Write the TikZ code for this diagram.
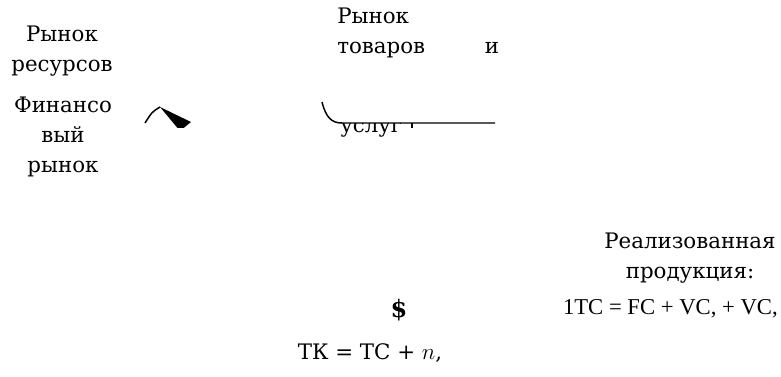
\documentclass[tikz,border=0pt]{standalone}
\usepackage{fontspec}
\setmainfont{DejaVu Serif}
\newfontfamily\timesfont{Liberation Serif}
\usetikzlibrary{arrows.meta,positioning}

\begin{document}
\begin{tikzpicture}[
    x=0.75pt, y=-0.75pt,
    lbl/.style={inner sep=0pt, align=center, anchor=base, font=\fontsize{16}{22.5}\selectfont},
    frm/.style={inner sep=0pt, anchor=base east, font=\timesfont\fontsize{17}{20}\selectfont},
    wire/.style={line width=1.1pt}
]
    \useasboundingbox (0,0) rectangle (781,377);

    % Left column: markets (base = last line)
    \node[lbl] (res) at (62,72) {Рынок\\ресурсов};
    \node[lbl] (fin) at (63,173) {Финансо\\вый\\рынок};

    % Top: goods market
    \node[lbl, anchor=base west, align=left] (goods) at (337,54) {Рынок\\товаров};
    \node[lbl] (and) at (492,54) {и};

    % Broken arrow next to financial market
    \coordinate (a0) at (145,123);
    \coordinate (a1) at (160,107);
    \begin{scope}
        \clip (140,100) rectangle (200,128);
        \draw[wire] (a0) .. controls (152,112) .. (a1);
        \fill (a1) -- (191,122) -- (180,131) -- cycle;
    \end{scope}

    % Curved line over "services"
    \coordinate (c0) at (322,102);
    \coordinate (c1) at (495,123);
    \draw[wire] (c0) .. controls (326,118) and (332,123) .. (342,123) -- (c1);
    \begin{scope}
        \clip (300,124) rectangle (500,140);
        \node[lbl, anchor=base west] (serv) at (340,133) {услуг};
        \draw[wire] (412,123) -- (412,128);
    \end{scope}

    % Right side: sold output
    \node[lbl] (sold) at (690,279) {Реализованная\\продукция:};
    \node[frm] (tc) at (778,315) {1TC = FC + VC, + VC,};

    % Bottom: money and total cost
    \node[font=\bfseries\fontsize{18}{20}\selectfont, inner sep=0pt] (money) at (399,310) {\$};
    \node[lbl] (tk) at (370,359) {ТК = ТС + $n$,};
\end{tikzpicture}
\end{document}
